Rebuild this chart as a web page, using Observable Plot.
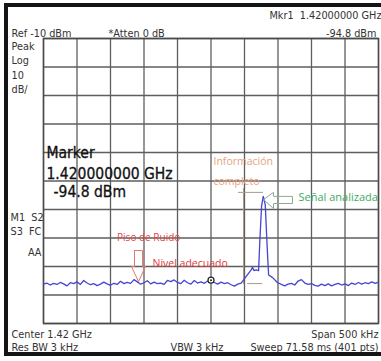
<!DOCTYPE html>
<html><head><meta charset="utf-8">
<script src="https://cdn.jsdelivr.net/npm/d3@7"></script>
<script src="https://cdn.jsdelivr.net/npm/@observablehq/plot@0.6"></script>
<style>
html,body{margin:0;padding:0;background:#fff;}
#wrap{position:relative;width:381px;height:361px;overflow:hidden;}
#border{position:absolute;left:4px;top:3px;width:400px;height:353px;border:4px solid #151515;box-sizing:border-box;pointer-events:none;}
</style></head><body><div id="wrap"><div id="chart"></div><div id="border"></div></div>
<script>
// Frequency offset from center (kHz) and measured level (dBm)
const freqKHz = [-250,-245,-240,-235,-230,-225,-220,-215,-210,-205,-200,-195,-190,-185,-180,-175,-170,-165,-160,-155,-150,-145,-140,-135,-130,-125,-120,-115,-110,-105,-100,-95,-90,-85,-80,-75,-70,-65,-60,-55,-50,-45,-40,-35,-30,-25,-20,-15,-10,-5,0,5,10,15,20,25,30,35,40,45,49,54,60,62,64,68,71,73,75.5,78,81,84,86,92,99,105,110,115,120,125,130,135,140,145,150,155,160,165,170,175,180,185,190,195,200,205,210,215,220,225,230,235,240,245,250];
const levelDbm = [-96.2,-95.8,-96.5,-95.9,-96.3,-95.6,-96.1,-96.8,-95.7,-96.0,-95.4,-96.3,-94.9,-95.8,-96.4,-96.0,-96.7,-96.2,-95.5,-96.1,-96.6,-95.9,-96.3,-95.2,-96.0,-95.6,-95.9,-94.6,-95.4,-96.2,-95.7,-95.0,-96.1,-95.5,-96.0,-95.8,-96.3,-94.9,-95.3,-94.7,-95.6,-96.0,-94.8,-95.7,-96.2,-94.9,-95.8,-95.4,-95.9,-95.1,-94.8,-95.6,-96.2,-95.5,-96.0,-95.7,-96.4,-96.9,-96.2,-95.8,-94.6,-93.0,-91.2,-90.3,-91.4,-91.2,-91.5,-80.5,-68.8,-65.4,-68.4,-84.0,-93.0,-93.9,-95.6,-96.3,-96.8,-96.2,-95.9,-96.5,-95.1,-94.6,-95.8,-96.3,-96.0,-96.6,-96.9,-96.2,-96.7,-96.1,-96.8,-96.3,-95.9,-96.5,-96.1,-96.7,-95.8,-96.3,-95.6,-96.2,-95.7,-96.0,-95.4,-95.9,-95.5];
const markerFreq = 0;        // kHz offset (1.42 GHz center)
const markerLevel = -94.8;   // dBm
const refLevel = -10, dbPerDiv = 10, spanKHz = 500;

const headerLabels = ["Mkr1  1.42000000 GHz", "-94.8 dBm", "Ref -10 dBm", "*Atten 0 dB"];
const leftLabels = ["Peak", "Log", "10", "dB/", "M1  S2", "S3  FC", "AA"];
const footerLabels = ["Center 1.42 GHz", "Res BW 3 kHz", "VBW 3 kHz", "Span 500 kHz", "Sweep 71.58 ms (401 pts)"];
const markerLabels = ["Marker", "1.420000000 GHz", "-94.8 dBm"];

const trace = freqKHz.map((f, i) => ({f, dbm: levelDbm[i]}));

// annotation shapes (data coordinates)
const greenArrow = [[78.4,-66.5],[93.3,-64.0],[93.3,-65.4],[121.6,-65.4],[121.6,-67.9],[93.3,-67.9],[93.3,-69.7],[78.4,-66.5]];
const redArrow = [[-114.2,-84.4],[-102.2,-84.4],[-102.2,-90.0],[-97.8,-90.0],[-108.2,-95.3],[-118.7,-90.0],[-114.2,-90.0],[-114.2,-84.4]];
const bracket = [
  [[41,-64.0],[77,-64.0]],
  [[48.5,-62.6],[48.5,-96.0]],
  [[54.5,-96.0],[76,-96.0]]
];

const ML = 43, MT = 38;
const small = {fontFamily: "DejaVu Sans Condensed", fontSize: 10.8, fill: "#333"};
function lab(t, px, py, anchor = "start", o = small) {
  return Plot.text([t], {frameAnchor: "top-left", dx: px - ML, dy: py - MT, lineAnchor: "bottom", textAnchor: anchor, ...o});
}
const big = {fontFamily: "DejaVu Sans Condensed", fontSize: 15.5, fill: "#111", stroke: "#111", strokeWidth: 0.3};
const ann = (o) => ({fontFamily: "Open Sans", ...o});

const chart = Plot.plot({
  width: 381, height: 361,
  marginLeft: ML, marginRight: 3, marginTop: MT, marginBottom: 38,
  style: {background: "#fff", overflow: "visible"},
  x: {domain: [-spanKHz / 2, spanKHz / 2], axis: null},
  y: {domain: [refLevel - 10 * dbPerDiv, refLevel], axis: null},
  marks: [
    Plot.ruleX(d3.range(-spanKHz / 2, spanKHz / 2 + 1, spanKHz / 10), {stroke: "#5e5e5e", strokeWidth: 1.3}),
    Plot.ruleY(d3.range(refLevel - 10 * dbPerDiv, refLevel + 1, dbPerDiv), {stroke: "#5e5e5e", strokeWidth: 1.3}),
    Plot.frame({stroke: "#4a4a4a", strokeWidth: 1.5}),
    ...bracket.map(seg => Plot.line(seg, {x: d => d[0], y: d => d[1], stroke: "#a89a8c", strokeWidth: 1})),
    Plot.line(trace, {x: "f", y: "dbm", stroke: "#4646d0", strokeWidth: 1.3}),
    Plot.line(greenArrow, {x: d => d[0], y: d => d[1], stroke: "#8aaa94", strokeWidth: 1}),
    Plot.line(redArrow, {x: d => d[0], y: d => d[1], stroke: "#e07a6a", strokeWidth: 1}),
    Plot.dot([{f: markerFreq, dbm: markerLevel}], {x: "f", y: "dbm", r: 3, stroke: "#222", strokeWidth: 1.2, fill: "#fff"}),
    Plot.dot([{f: markerFreq, dbm: markerLevel}], {x: "f", y: "dbm", r: 1, fill: "#222"}),
    // annotations
    Plot.text(["Piso de Ruido"], {x: -93, y: -79.8, ...ann({fontSize: 10, fill: "#e04848"})}),
    Plot.text(["Nivel adecuado"], {x: -87.3, y: -89.0, textAnchor: "start", ...ann({fontSize: 10.5, fill: "#e03a3a"})}),
    Plot.text(["Información"], {x: 3.7, y: -53.2, textAnchor: "start", ...ann({fontSize: 10.5, fill: "#e8a47c"})}),
    Plot.text(["completo"], {x: 3.7, y: -60.2, textAnchor: "start", ...ann({fontSize: 10.5, fill: "#e8a47c"})}),
    Plot.text(["Señal analizada"], {x: 130.6, y: -65.8, textAnchor: "start", ...ann({fontSize: 11, fill: "#3faa62"})}),
    // marker readout
    lab(markerLabels[0], 46, 157, "start", big),
    lab(markerLabels[1], 46, 178, "start", big),
    lab(markerLabels[2], 53, 196, "start", big),
    // header
    lab(headerLabels[0], 381, 18, "end"),
    lab(headerLabels[1], 376, 36, "end"),
    lab(headerLabels[2], 11, 36),
    lab(headerLabels[3], 108, 36),
    // left column
    lab(leftLabels[0], 11, 49),
    lab(leftLabels[1], 11, 63),
    lab(leftLabels[2], 11, 78),
    lab(leftLabels[3], 11, 92),
    lab(leftLabels[4], 10, 220),
    lab(leftLabels[5], 10, 234),
    lab(leftLabels[6], 41, 255, "end"),
    // footer
    lab(footerLabels[0], 11, 337),
    lab(footerLabels[1], 11, 350),
    lab(footerLabels[2], 170, 350),
    lab(footerLabels[3], 378, 337, "end"),
    lab(footerLabels[4], 378, 350, "end")
  ]
});
document.getElementById("chart").appendChild(chart);
</script></body></html>
